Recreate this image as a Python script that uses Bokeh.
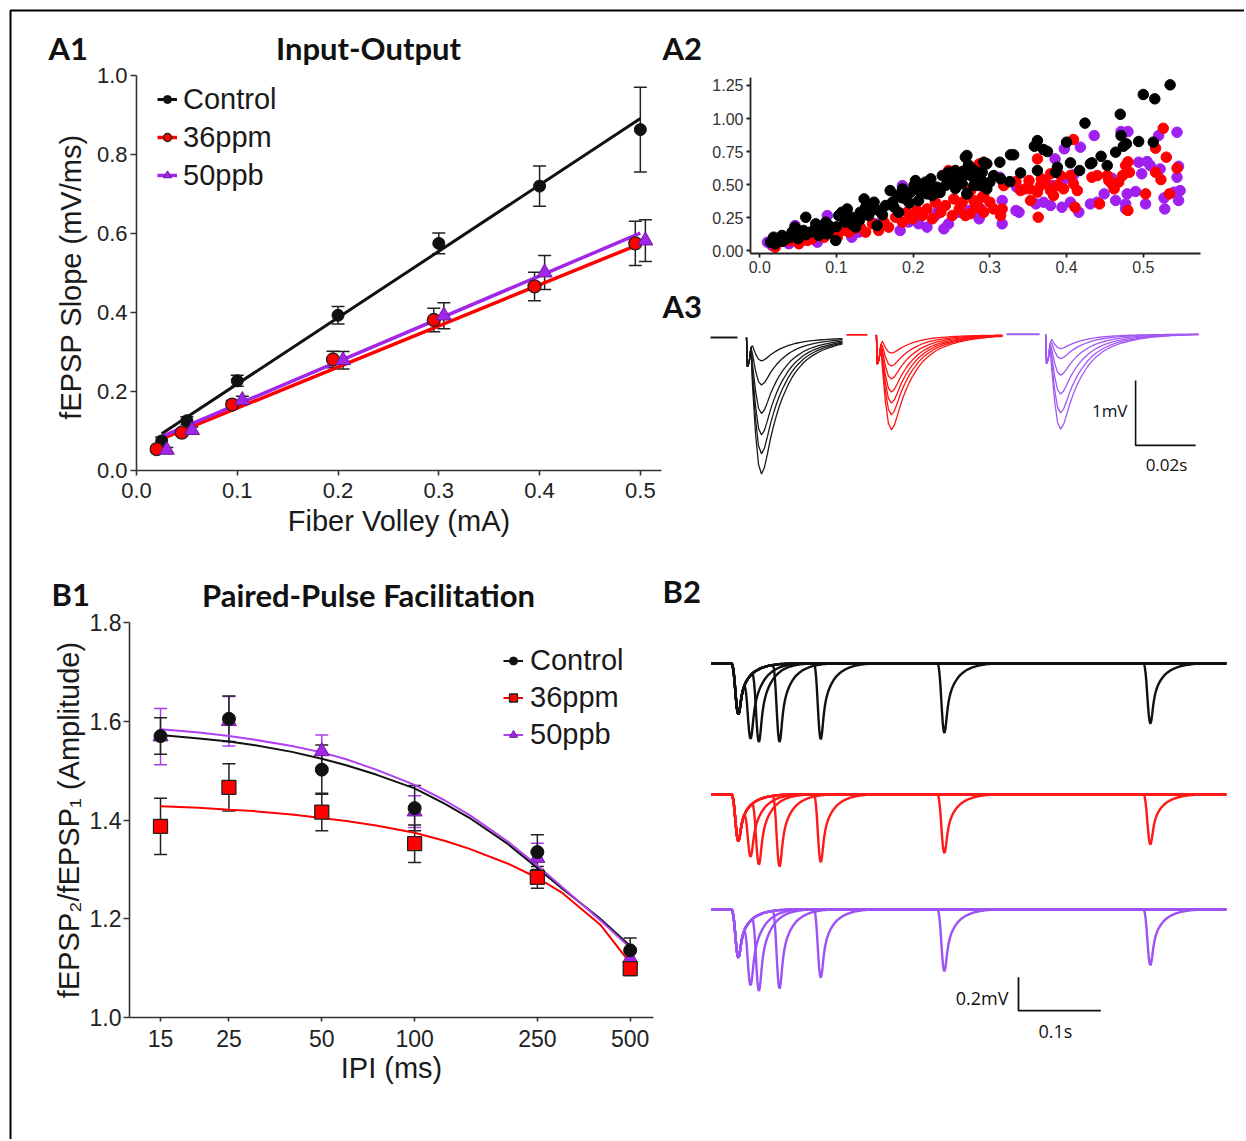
import numpy as np
from bokeh.plotting import figure
from bokeh.models import (ColumnDataSource, Whisker, TeeHead, Label, Legend, LegendItem,
                          FixedTicker, NumeralTickFormatter, Range1d)
from bokeh.embed import file_html
from bokeh.resources import INLINE

# ------------------------------------------------------------------ data
# A1  Input-Output (mean +/- sem)
io_ctrl_x = [0.025, 0.05, 0.10, 0.20, 0.30, 0.40, 0.50]
io_ctrl_y = [0.075, 0.126, 0.227, 0.393, 0.575, 0.720, 0.863]
io_ctrl_e = [0.010, 0.010, 0.014, 0.022, 0.026, 0.051, 0.107]
io_ppm_x = [0.020, 0.045, 0.095, 0.195, 0.295, 0.395, 0.495]
io_ppm_y = [0.054, 0.096, 0.167, 0.281, 0.381, 0.466, 0.575]
io_ppm_e = [0.006, 0.008, 0.010, 0.021, 0.030, 0.036, 0.056]
io_ppb_x = [0.030, 0.055, 0.105, 0.205, 0.305, 0.405, 0.505]
io_ppb_y = [0.052, 0.102, 0.178, 0.279, 0.392, 0.501, 0.582]
io_ppb_e = [0.006, 0.008, 0.010, 0.022, 0.033, 0.043, 0.053]
io_fit_x = [0.025, 0.50]
io_fit_ctrl = [0.093, 0.891]
io_fit_ppm = [0.080, 0.574]
io_fit_ppb = [0.086, 0.601]

# A2  individual slices (fiber volley, slope)
a2_ctrl = [(0.014,0.063),(0.018,0.101),(0.023,0.076),(0.029,0.114),(0.034,0.088),(0.042,0.139),(0.046,0.177),
           (0.053,0.114),(0.060,0.252),(0.057,0.152),(0.066,0.139),(0.073,0.202),(0.077,0.114),(0.081,0.164),
           (0.086,0.215),(0.088,0.126),(0.092,0.164),(0.099,0.076),(0.103,0.265),(0.107,0.290),(0.112,0.215),
           (0.114,0.315),(0.120,0.252),(0.125,0.177),(0.131,0.290),(0.136,0.391),(0.138,0.328),(0.142,0.265),
           (0.149,0.366),(0.153,0.189),(0.155,0.303),(0.164,0.341),(0.170,0.454),(0.173,0.366),(0.179,0.416),
           (0.181,0.290),(0.186,0.467),(0.190,0.391),(0.197,0.442),(0.201,0.492),(0.203,0.530),(0.207,0.378),
           (0.212,0.480),(0.216,0.518),(0.218,0.429),(0.223,0.543),(0.225,0.416),(0.231,0.480),(0.238,0.568),
           (0.242,0.492),(0.246,0.593),(0.251,0.530),(0.255,0.606),(0.260,0.555),(0.264,0.505),(0.268,0.707),
           (0.270,0.429),(0.275,0.568),(0.277,0.618),(0.281,0.530),(0.286,0.492),(0.290,0.593),(0.292,0.669),
           (0.020,0.050),(0.030,0.070),(0.040,0.100),(0.050,0.090),(0.060,0.120),(0.070,0.150),(0.080,0.130),
           (0.090,0.190),(0.100,0.180),(0.110,0.240),(0.120,0.200),(0.130,0.230),(0.145,0.300),(0.160,0.270),
           (0.175,0.330),(0.185,0.400),(0.195,0.360),(0.210,0.440),(0.220,0.470),(0.235,0.440),(0.245,0.520),
           (0.255,0.470),(0.265,0.600),(0.280,0.580),(0.290,0.520),
           (0.535,1.255),(0.500,1.182),(0.515,1.149),(0.470,1.032),(0.424,0.965),(0.471,0.871),(0.494,0.826),
           (0.513,0.821),(0.478,0.808),(0.474,0.790),(0.464,0.745),(0.445,0.714),(0.433,0.664),(0.453,0.644),
           (0.431,0.657),(0.405,0.664),(0.417,0.606),(0.400,0.821),(0.362,0.833),(0.358,0.790),(0.375,0.750),
           (0.370,0.765),(0.388,0.631),(0.386,0.593),(0.362,0.606),(0.331,0.725),(0.327,0.725),(0.340,0.588),
           (0.326,0.522),(0.313,0.669),(0.296,0.657),(0.270,0.720),(0.272,0.648),(0.283,0.593),(0.296,0.467),
           (0.270,0.429),(0.279,0.492),(0.305,0.568),(0.314,0.543),(0.300,0.518),(0.288,0.543),(0.266,0.568)]
a2_ppm = [(0.020,0.025),(0.025,0.063),(0.038,0.076),(0.051,0.051),(0.062,0.076),(0.068,0.088),(0.084,0.101),
          (0.095,0.139),(0.101,0.101),(0.107,0.152),(0.116,0.139),(0.123,0.164),(0.131,0.177),(0.138,0.139),
          (0.147,0.202),(0.155,0.152),(0.162,0.215),(0.168,0.177),(0.177,0.252),(0.186,0.215),(0.192,0.290),
          (0.199,0.240),(0.205,0.303),(0.212,0.265),(0.218,0.315),(0.225,0.240),(0.229,0.366),(0.236,0.290),
          (0.242,0.341),(0.246,0.606),(0.251,0.265),(0.253,0.391),(0.260,0.315),(0.264,0.366),(0.268,0.265),
          (0.275,0.454),(0.281,0.328),(0.286,0.656),(0.290,0.404),(0.292,0.290),
          (0.526,0.926),(0.409,0.841),(0.362,0.694),(0.516,0.775),(0.530,0.707),(0.480,0.672),(0.477,0.644),
          (0.482,0.593),(0.473,0.568),(0.516,0.593),(0.523,0.537),(0.544,0.623),(0.534,0.429),(0.503,0.429),
          (0.480,0.303),(0.453,0.568),(0.468,0.518),(0.462,0.467),(0.459,0.505),(0.455,0.530),(0.440,0.568),
          (0.433,0.555),(0.443,0.353),(0.411,0.328),(0.414,0.454),(0.409,0.505),(0.405,0.568),(0.392,0.568),
          (0.388,0.492),(0.379,0.454),(0.396,0.467),(0.373,0.518),(0.366,0.492),(0.362,0.442),(0.353,0.379),
          (0.367,0.543),(0.379,0.581),(0.383,0.416),(0.363,0.252),(0.351,0.530),(0.346,0.467),(0.340,0.454),
          (0.334,0.522),(0.352,0.467),(0.318,0.492),(0.316,0.315),(0.314,0.265),(0.305,0.315),(0.300,0.366),
          (0.292,0.416),(0.294,0.467),(0.274,0.278),(0.262,0.353),(0.285,0.328),(0.279,0.379)]
a2_ppb = [(0.010,0.063),(0.016,0.038),(0.038,0.051),(0.046,0.189),(0.075,0.063),(0.088,0.265),(0.120,0.101),
          (0.129,0.139),(0.151,0.202),(0.183,0.152),(0.186,0.492),(0.194,0.215),(0.207,0.202),(0.218,0.177),
          (0.229,0.265),(0.240,0.164),(0.246,0.202),(0.260,0.290),(0.273,0.303),(0.286,0.252),(0.281,0.568),
          (0.233,0.303),
          (0.544,0.896),(0.436,0.871),(0.480,0.901),(0.471,0.901),(0.418,0.783),(0.397,0.770),(0.385,0.694),
          (0.520,0.871),(0.494,0.669),(0.505,0.674),(0.509,0.644),(0.498,0.581),(0.522,0.618),(0.546,0.638),
          (0.544,0.555),(0.548,0.454),(0.546,0.379),(0.540,0.442),(0.527,0.398),(0.528,0.315),(0.503,0.353),
          (0.490,0.447),(0.479,0.429),(0.477,0.353),(0.477,0.315),(0.464,0.379),(0.449,0.429),(0.440,0.366),
          (0.431,0.353),(0.459,0.548),(0.416,0.290),(0.405,0.366),(0.394,0.328),(0.407,0.548),(0.409,0.573),
          (0.396,0.535),(0.383,0.492),(0.379,0.341),(0.370,0.366),(0.360,0.353),(0.338,0.290),(0.334,0.303),
          (0.335,0.480),(0.316,0.202),(0.316,0.379),(0.313,0.555),(0.288,0.315),(0.268,0.290),(0.286,0.240)]

# A3  representative fEPSP traces: peak amplitudes (mV) and normalised waveform (1 ms steps)
a3_amp_ctrl = [0.36, 0.73, 1.17, 1.50, 1.79, 2.10]
a3_amp_ppm = [0.28, 0.48, 0.68, 0.88, 1.05, 1.23, 1.46]
a3_amp_ppb = [0.22, 0.375, 0.63, 0.92, 1.21, 1.46]
a3_kernel = [0.0, -0.10, -0.35, -0.70, -0.93, -1.00, -0.95, -0.85, -0.74, -0.65, -0.57, -0.50, -0.44,
             -0.39, -0.34, -0.30, -0.265, -0.235, -0.21, -0.185, -0.165, -0.148, -0.133, -0.12, -0.108,
             -0.097, -0.088, -0.08, -0.072, -0.065, -0.058, -0.052, -0.047, -0.042, -0.038, -0.034, -0.03,
             -0.027, -0.024, -0.021, -0.019, -0.017, -0.015, -0.013, -0.011, -0.01, -0.008, -0.007, -0.006,
             -0.005, -0.004, -0.003]
a3_art_t = [0.0, 0.3, 0.9, 1.5]
a3_art_v = [0.0, -0.45, -0.38, -0.15]

# B1  Paired-pulse facilitation
ipi = [15, 25, 50, 100, 250, 500]
ppf_ctrl = [1.570, 1.605, 1.502, 1.424, 1.335, 1.136]
ppf_ctrl_e = [0.037, 0.046, 0.050, 0.046, 0.035, 0.025]
ppf_ppm = [1.387, 1.466, 1.416, 1.352, 1.284, 1.099]
ppf_ppm_e = [0.057, 0.048, 0.038, 0.038, 0.022, 0.014]
ppf_ppb = [1.569, 1.600, 1.539, 1.417, 1.323, 1.120]
ppf_ppb_e = [0.057, 0.050, 0.033, 0.032, 0.030, 0.015]
fit_ipi = [15, 20, 25, 30, 40, 50, 60, 75, 100, 125, 150, 200, 250, 300, 400, 500]
fit_ppf_ctrl = [1.572, 1.565, 1.559, 1.552, 1.538, 1.524, 1.511, 1.492, 1.464, 1.433, 1.405, 1.352,
                1.303, 1.262, 1.200, 1.145]
fit_ppf_ppm = [1.428, 1.425, 1.421, 1.418, 1.411, 1.404, 1.398, 1.389, 1.374, 1.358, 1.342, 1.312,
               1.283, 1.253, 1.188, 1.110]
fit_ppf_ppb = [1.584, 1.577, 1.570, 1.563, 1.550, 1.537, 1.523, 1.502, 1.471, 1.440, 1.411, 1.357,
               1.308, 1.265, 1.197, 1.141]

# B2  representative paired-pulse traces: trough depths (mV)
b2_ipi = [15, 25, 50, 100, 250, 500]
b2_first = [0.304, 0.280, 0.288]            # control, 36ppm, 50ppb
b2_second_ctrl = [0.450, 0.470, 0.470, 0.454, 0.416, 0.360]
b2_second_ppm = [0.372, 0.420, 0.432, 0.406, 0.352, 0.300]
b2_second_ppb = [0.454, 0.488, 0.474, 0.408, 0.370, 0.334]
b2_kernel = [0.0, -0.05, -0.15, -0.30, -0.50, -0.70, -0.87, -0.97, -1.00, -0.95, -0.85, -0.73, -0.63,
             -0.55, -0.49, -0.44, -0.40, -0.365, -0.335, -0.31, -0.285, -0.265, -0.245, -0.227, -0.21,
             -0.195, -0.18, -0.167, -0.155, -0.145, -0.135, -0.126, -0.117, -0.109, -0.101, -0.094, -0.087,
             -0.081, -0.075, -0.07, -0.065, -0.06, -0.055, -0.051, -0.047, -0.043, -0.04, -0.037, -0.034,
             -0.031, -0.028, -0.025, -0.023, -0.021, -0.019, -0.017, -0.015, -0.013, -0.012, -0.01, -0.009,
             -0.008, -0.007, -0.006, -0.005, -0.004, -0.003, -0.002, -0.001, 0.0]
B2_PEAK_IDX = 8

# panel letters and titles
panel_labels = ["A1", "A2", "A3", "B1", "B2"]
panel_titles = ["Input-Output", "Paired-Pulse Facilitation"]

# ------------------------------------------------------------------ styles
BLACK = "#111111"
RED = "#ff0000"
PURPLE = "#a126e8"
PURPLE_R = "#a020f0"
PURPLE_T = "#a258f2"
FONT = "Liberation Sans"
BOLD = "Lato"


def base_fig(left, top, **kw):
    p = figure(output_backend="svg", toolbar_location=None,
               styles={"position": "absolute", "left": f"{left}px", "top": f"{top}px"}, **kw)
    p.xgrid.visible = False
    p.ygrid.visible = False
    p.outline_line_color = None
    p.background_fill_color = "white"
    p.border_fill_color = "white"
    return p


def style_axes(p, tick_px, label_px, out_x, out_y, lw=1.6, col="#333333"):
    for ax, out in [(p.xaxis[0], out_x), (p.yaxis[0], out_y)]:
        ax.axis_line_color = col
        ax.axis_line_width = lw
        ax.major_tick_line_color = col
        ax.major_tick_line_width = lw
        ax.major_tick_in = 0
        ax.major_tick_out = out
        ax.minor_tick_line_color = None
        ax.major_label_text_font = FONT
        ax.major_label_text_font_size = f"{tick_px}px"
        ax.major_label_text_color = "#222222"
        ax.axis_label_text_font = FONT
        ax.axis_label_text_font_size = f"{label_px}px"
        ax.axis_label_text_font_style = "normal"
        ax.axis_label_text_color = "#1a1a1a"


def lab(p, x, y, text, size, bold=False, font=BOLD, align="left", baseline="middle", color="#111111"):
    p.add_layout(Label(x=x, y=y, text=text, text_font=font,
                       text_font_size=f"{size}px", text_font_style="bold" if bold else "normal",
                       text_align=align, text_baseline=baseline, text_color=color))


def add_err(p, xs, ys, es, color, head=13, lw=1.5):
    src = ColumnDataSource(dict(x=xs, lo=[y - e for y, e in zip(ys, es)], hi=[y + e for y, e in zip(ys, es)]))
    p.add_layout(Whisker(source=src, base="x", lower="lo", upper="hi", line_color=color, line_width=lw,
                         upper_head=TeeHead(size=head, line_color=color, line_width=lw),
                         lower_head=TeeHead(size=head, line_color=color, line_width=lw)))


# ------------------------------------------------------------------ A1
p_a1 = base_fig(10, 10, width=652, height=545, x_range=Range1d(0, 0.521), y_range=Range1d(0, 1.0),
                min_border_left=126, min_border_right=1, min_border_top=65, min_border_bottom=85)
style_axes(p_a1, 22, 29, 5, 6)
p_a1.xaxis.ticker = FixedTicker(ticks=[0, 0.1, 0.2, 0.3, 0.4, 0.5])
p_a1.xaxis.formatter = NumeralTickFormatter(format="0.0")
p_a1.yaxis.ticker = FixedTicker(ticks=[0, 0.2, 0.4, 0.6, 0.8, 1.0])
p_a1.yaxis.formatter = NumeralTickFormatter(format="0.0")
p_a1.xaxis.axis_label = "Fiber Volley (mA)"
p_a1.yaxis.axis_label = "fEPSP Slope  (mV/ms)"
p_a1.xaxis.major_label_standoff = 7
p_a1.xaxis.axis_label_standoff = 4
p_a1.yaxis.major_label_standoff = 3
p_a1.yaxis.axis_label_standoff = 7

l_c = p_a1.line(io_fit_x, io_fit_ctrl, line_color=BLACK, line_width=3)
l_r = p_a1.line(io_fit_x, io_fit_ppm, line_color=RED, line_width=3.5)
l_p = p_a1.line(io_fit_x, io_fit_ppb, line_color=PURPLE, line_width=3.5)
add_err(p_a1, io_ctrl_x, io_ctrl_y, io_ctrl_e, "#222222")
add_err(p_a1, io_ppm_x, io_ppm_y, io_ppm_e, "#222222")
add_err(p_a1, io_ppb_x, io_ppb_y, io_ppb_e, "#222222")
m_c = p_a1.scatter(io_ctrl_x, io_ctrl_y, marker="circle", size=12, fill_color=BLACK, line_color=BLACK)
m_r = p_a1.scatter(io_ppm_x, io_ppm_y, marker="circle", size=13, fill_color=RED, line_color="#222222",
                   line_width=1.3)
m_p = p_a1.scatter(io_ppb_x, io_ppb_y, marker="triangle", size=15, fill_color=PURPLE, line_color="#6a1a9a",
                   line_width=1)
leg1 = Legend(items=[LegendItem(label="Control", renderers=[l_c, m_c]),
                     LegendItem(label="36ppm", renderers=[l_r, m_r]),
                     LegendItem(label="50ppb", renderers=[l_p, m_p])],
              location=(21, 276), label_text_font=FONT, label_text_font_size="29px",
              label_text_color="#1a1a1a", glyph_width=20, glyph_height=38, label_height=38,
              label_standoff=6, spacing=0, padding=0, margin=0, border_line_color=None,
              background_fill_alpha=0)
p_a1.add_layout(leg1)

# ------------------------------------------------------------------ A2
p_a2 = base_fig(662, 10, width=576, height=280, x_range=Range1d(-0.0121, 0.5746),
                y_range=Range1d(-0.0227, 1.3106),
                min_border_left=88, min_border_right=38, min_border_top=67, min_border_bottom=37)
style_axes(p_a2, 16, 14, 4, 4, lw=1.8, col="#222222")
p_a2.xaxis.ticker = FixedTicker(ticks=[0, 0.1, 0.2, 0.3, 0.4, 0.5])
p_a2.xaxis.formatter = NumeralTickFormatter(format="0.0")
p_a2.yaxis.ticker = FixedTicker(ticks=[0, 0.25, 0.5, 0.75, 1.0, 1.25])
p_a2.yaxis.formatter = NumeralTickFormatter(format="0.00")
for ax in (p_a2.xaxis[0], p_a2.yaxis[0]):
    ax.major_label_text_color = "#333333"
    ax.major_label_standoff = 3
for pts, colr in [(a2_ppb, PURPLE_R), (a2_ppm, RED), (a2_ctrl, "#000000")]:
    p_a2.scatter([q[0] for q in pts], [q[1] for q in pts], marker="circle", size=10.5,
                 fill_color=colr, line_color=colr)

# ------------------------------------------------------------------ A3
p_a3 = base_fig(662, 290, width=576, height=265, x_range=Range1d(-28, 164), y_range=Range1d(-3.354, 0.723),
                min_border=0, x_axis_location=None, y_axis_location=None)
A3_GROUPS = [(a3_amp_ctrl, "#1a1a1a", 0.0, 0.0, -12, -3, 32),
             (a3_amp_ppm, "#ff1414", 43.3, 0.04, -10, -3, 42),
             (a3_amp_ppb, PURPLE_T, 99.7, 0.05, -13, -2, 51)]
for amps, colr, t0, base, pre0, pre1, tend in A3_GROUPS:
    xs, ys = [], []
    for amp in amps:
        tt = list(a3_art_t) + list(range(2, tend + 1))
        vv = [base + v for v in a3_art_v] + [base + amp * a3_kernel[k] for k in range(2, tend + 1)]
        xs.append([t0 + t for t in tt])
        ys.append(vv)
    p_a3.multi_line(xs, ys, line_color=colr, line_width=1.3)
    p_a3.line([t0 + pre0, t0 + pre1], [base, base], line_color=colr, line_width=1.8)
# scale bar: 1 mV, 20 ms
sb_mv, sb_ms = 1.0, 20
p_a3.line([129.7, 129.7, 129.7 + sb_ms], [-0.66, -0.66 - sb_mv, -0.66 - sb_mv], line_color="#111111",
          line_width=1.6)
lab(p_a3, 127, -1.12, "1mV", 17, font="Open Sans", align="right")
lab(p_a3, 140, -1.95, "0.02s", 17, font="Open Sans", align="center")

# ------------------------------------------------------------------ B1
p_b1 = base_fig(10, 555, width=652, height=578, x_axis_type="log", x_range=Range1d(11.9, 595),
                y_range=Range1d(1.0, 1.8),
                min_border_left=119, min_border_right=9, min_border_top=67, min_border_bottom=116)
style_axes(p_b1, 23, 29, 4, 6)
p_b1.xaxis.ticker = FixedTicker(ticks=ipi, minor_ticks=[])
p_b1.xaxis.formatter = NumeralTickFormatter(format="0")
p_b1.yaxis.ticker = FixedTicker(ticks=[1.0, 1.2, 1.4, 1.6, 1.8])
p_b1.yaxis.formatter = NumeralTickFormatter(format="0.0")
p_b1.xaxis.axis_label = "IPI (ms)"
p_b1.yaxis.axis_label = "fEPSP\u2082/fEPSP\u2081 (Amplitude)"
p_b1.xaxis.major_label_standoff = 8
p_b1.xaxis.axis_label_standoff = 2
p_b1.yaxis.major_label_standoff = 2
p_b1.yaxis.axis_label_standoff = 2

f_c = p_b1.line(fit_ipi, fit_ppf_ctrl, line_color=BLACK, line_width=2)
f_r = p_b1.line(fit_ipi, fit_ppf_ppm, line_color=RED, line_width=2)
f_p = p_b1.line(fit_ipi, fit_ppf_ppb, line_color="#b040f0", line_width=2)
add_err(p_b1, ipi, ppf_ppb, ppf_ppb_e, "#a83ee8", head=13)
add_err(p_b1, ipi, ppf_ppm, ppf_ppm_e, "#222222", head=13)
add_err(p_b1, ipi, ppf_ctrl, ppf_ctrl_e, "#222222", head=13)
s_p = p_b1.scatter(ipi, ppf_ppb, marker="triangle", size=15, fill_color=PURPLE, line_color="#6a1a9a",
                   line_width=1)
s_r = p_b1.scatter(ipi, ppf_ppm, marker="square", size=14, fill_color=RED, line_color="#222222",
                   line_width=1.3)
s_c = p_b1.scatter(ipi, ppf_ctrl, marker="circle", size=13, fill_color=BLACK, line_color=BLACK)
leg2 = Legend(items=[LegendItem(label="Control", renderers=[f_c, s_c]),
                     LegendItem(label="36ppm", renderers=[f_r, s_r]),
                     LegendItem(label="50ppb", renderers=[f_p, s_p])],
              location=(374, 264), label_text_font=FONT, label_text_font_size="29px",
              label_text_color="#1a1a1a", glyph_width=20, glyph_height=37, label_height=37,
              label_standoff=7, spacing=0, padding=0, margin=0, border_line_color=None,
              background_fill_alpha=0)
p_b1.add_layout(leg2)

# ------------------------------------------------------------------ B2
p_b2 = base_fig(662, 555, width=576, height=578, x_range=Range1d(-84.2, 614.8), y_range=Range1d(-2.814, 0.647),
                min_border=0, x_axis_location=None, y_axis_location=None)
K = np.array(b2_kernel)
t_ms = np.arange(-25, 601)


def pulse(shift):
    idx = t_ms - shift
    out = np.zeros(len(t_ms))
    ok = (idx >= 0) & (idx < len(K))
    out[ok] = K[idx[ok]]
    return out


B2_ROWS = [(b2_first[0], b2_second_ctrl, "#111111", 0.0),
           (b2_first[1], b2_second_ppm, "#ff1a1a", -0.784),
           (b2_first[2], b2_second_ppb, "#9d52f5", -1.473)]
for a1, depths, colr, base in B2_ROWS:
    xs, ys = [], []
    for d, gap in zip(depths, b2_ipi):
        k = gap + B2_PEAK_IDX
        resid = -K[k] * a1 if k < len(K) else 0.0
        a2 = d - resid
        xs.append(t_ms.tolist())
        ys.append((base + a1 * pulse(0) + a2 * pulse(gap)).tolist())
    p_b2.multi_line(xs, ys, line_color=colr, line_width=2.4)
# scale bar: 0.2 mV, 100 ms
sb2_mv, sb2_ms = 0.2, 100
p_b2.line([347.8, 347.8, 347.8 + sb2_ms], [-1.878, -1.878 - sb2_mv, -1.878 - sb2_mv], line_color="#111111",
          line_width=1.8)
lab(p_b2, 335.7, -2.0, "0.2mV", 18, font="Open Sans", align="right")
lab(p_b2, 392.7, -2.198, "0.1s", 18, font="Open Sans", align="center")

# ------------------------------------------------------------------ page overlay: frame, panel letters, titles
p_pg = base_fig(0, 0, width=1244, height=1139, x_range=Range1d(0, 1244), y_range=Range1d(1139, 0),
                min_border=0, x_axis_location=None, y_axis_location=None)
p_pg.background_fill_color = None
p_pg.border_fill_color = None
p_pg.line([10, 10, 1244], [1139, 10, 10], line_color="#000000", line_width=2)
LETTER_POS = [(48, 47), (662, 47), (662, 305), (51, 593), (662, 590)]
for txt, (lx, ly) in zip(panel_labels, LETTER_POS):
    lab(p_pg, lx, ly, txt, 31, bold=True)
TITLE_POS = [(368, 47), (368, 594)]
for txt, (lx, ly) in zip(panel_titles, TITLE_POS):
    lab(p_pg, lx, ly, txt, 31, bold=True, align="center")

open("out.html", "w").write(file_html([p_a1, p_a2, p_a3, p_b1, p_b2, p_pg], INLINE))
